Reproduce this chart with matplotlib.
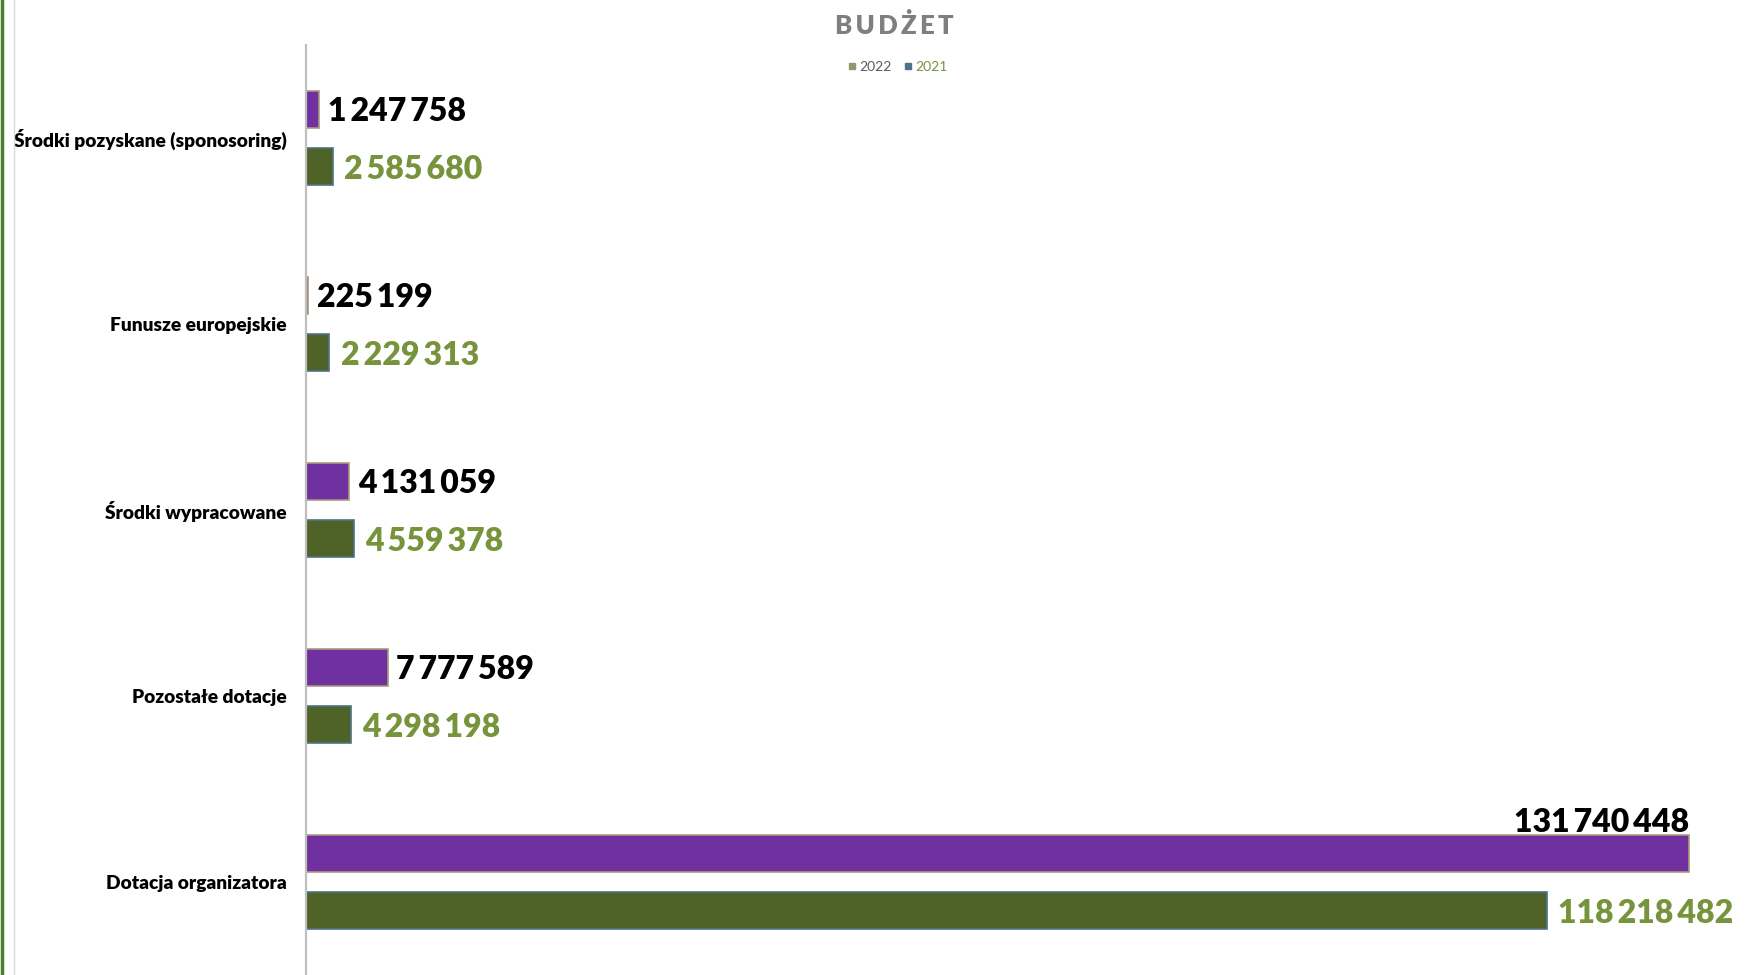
import matplotlib
matplotlib.use('Agg')
import numpy as np
import matplotlib.pyplot as plt
from matplotlib.lines import Line2D

categories = ['Środki pozyskane (sponosoring)', 'Funusze europejskie',
              'Środki wypracowane', 'Pozostałe dotacje', 'Dotacja organizatora']
values_2022 = [1247758, 225199, 4131059, 7777589, 131740448]
values_2021 = [2585680, 2229313, 4559378, 4298198, 118218482]

purple = '#7030A0'
green = '#4F6228'
label_green = '#77933C'
font = ['Lato', 'DejaVu Sans']


def fmt(v):
    return f"{v:,}".replace(',', '\u2009')


fig = plt.figure(figsize=(17.57, 9.75), dpi=100)
ax = fig.add_axes([306 / 1757, 0, 1 - 306 / 1757, 930 / 975])

y = np.arange(len(categories))
bars22 = ax.barh(y - 0.155, values_2022, height=0.2, color=purple,
                 edgecolor='#a89a80', linewidth=1.2)
bars21 = ax.barh(y + 0.155, values_2021, height=0.2, color=green,
                 edgecolor='#4e7389', linewidth=1.2)

xmax = 131740448 * (1757 - 306) / 1383
ax.set_xlim(0, xmax)
ax.set_ylim(4.5, -0.5)

# value labels
off = xmax * 0.006
lab = dict(fontsize=23, fontweight='heavy', family=font)
for rect, v in zip(bars22, values_2022):
    x = rect.get_width()
    yc = rect.get_y() + rect.get_height() / 2
    if v > 100e6:
        ax.text(x, rect.get_y() + 0.012, fmt(v), ha='right', va='bottom',
                color='black', **lab)
    else:
        ax.text(x + off, yc + 0.012, fmt(v), ha='left', va='center',
                color='black', **lab)
for rect, v in zip(bars21, values_2021):
    yc = rect.get_y() + rect.get_height() / 2
    ax.text(rect.get_width() + off * 1.3, yc + 0.012, fmt(v), ha='left',
            va='center', color=label_green, **lab)

ax.set_yticks(y)
ax.set_yticklabels(categories, fontsize=13.8, fontweight='heavy', family=font)
ax.tick_params(axis='y', length=0, pad=14)
ax.set_xticks([])
for s in ['top', 'right', 'bottom']:
    ax.spines[s].set_visible(False)
ax.spines['left'].set_color('#bfbfbf')
ax.spines['left'].set_linewidth(1.6)

# title and legend
fig.text(894 / 1757, 1 - 25 / 975, '\u2009'.join('BUDŻET'),
         ha='center', va='center', fontsize=18.5, fontweight='heavy',
         color='#7f7f7f', family=font)
handles = [Line2D([], [], marker='s', ls='', color='#8c9a70', markersize=5),
           Line2D([], [], marker='s', ls='', color='#4e7389', markersize=5)]
leg = fig.legend(handles, ['2022', '2021'], loc='center',
                 bbox_to_anchor=(897 / 1757, 1 - 67 / 975), ncol=2,
                 frameon=False, handletextpad=0.1,
                 columnspacing=0.8, handlelength=0.8,
                 prop={'family': font, 'size': 10})
leg.get_texts()[0].set_color('#595959')
leg.get_texts()[1].set_color(label_green)

# left page border
fig.add_artist(Line2D([1.5 / 1757, 1.5 / 1757], [0, 1], color='#4a7f2e',
                      lw=2.5, transform=fig.transFigure))
fig.add_artist(Line2D([14 / 1757, 14 / 1757], [0, 1], color='#d9d9d9',
                      lw=1, transform=fig.transFigure))

fig.savefig('out.png', dpi=100)
